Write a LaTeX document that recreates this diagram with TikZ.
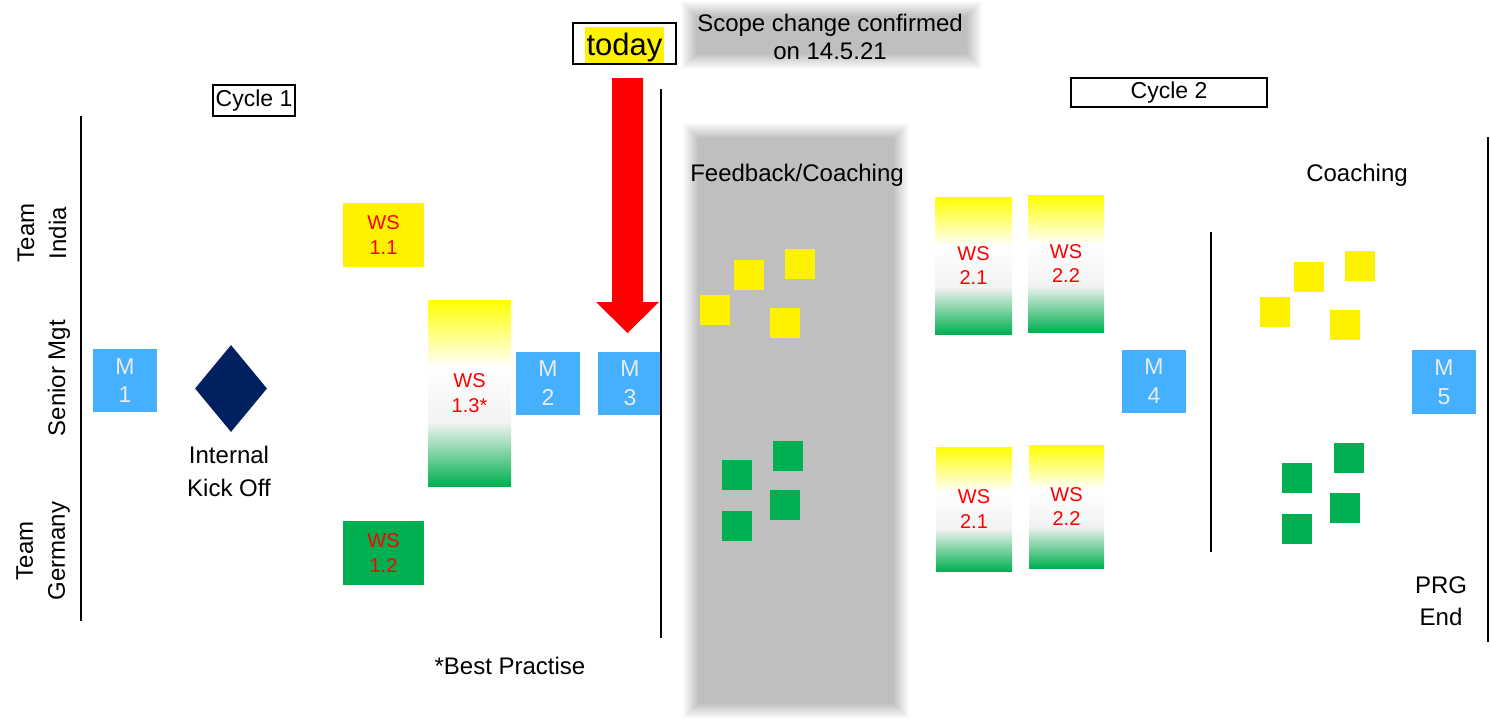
\documentclass[tikz,border=0pt]{standalone}
\usepackage{fontspec}
\setmainfont{Liberation Sans}
\usetikzlibrary{shapes.geometric,calc}
\definecolor{mblue}{RGB}{68,176,255}
\definecolor{mtext}{RGB}{236,236,236}
\definecolor{wsgreen}{RGB}{0,176,80}
\definecolor{navy}{RGB}{0,32,96}
\definecolor{boxgray}{RGB}{191,191,191}
\definecolor{lgrey}{RGB}{242,242,242}
\newcommand{\softbox}[4]{%
  \foreach \k in {0,...,16}{%
    \pgfmathsetmacro{\xa}{#1-8+\k}%
    \pgfmathsetmacro{\ya}{#2-8+\k}%
    \pgfmathsetmacro{\xb}{#3+8-\k}%
    \pgfmathsetmacro{\yb}{#4+8-\k}%
    \pgfmathtruncatemacro{\pc}{\k*100/16}%
    \fill[boxgray!\pc!white] (\xa,\ya) rectangle (\xb,\yb);
  }}
\begin{document}
\begin{tikzpicture}[x=1pt,y=-1pt,
  mbox/.style={fill=mblue, text=mtext, minimum width=64pt, minimum height=63pt, inner sep=0pt, align=center, font=\fontsize{23}{28.5}\selectfont},
  wsflat/.style={minimum width=81pt, minimum height=64pt, inner sep=0pt, align=center, text=red, font=\fontsize{20}{24.5}\selectfont},
  wsgrad/.style={inner sep=0pt, align=center, text=red, font=\fontsize{20}{24.5}\selectfont,
    path picture={
      \path (path picture bounding box.north west) coordinate (nw)
            (path picture bounding box.south east) coordinate (se)
            (path picture bounding box.north east) coordinate (ne)
            (path picture bounding box.south west) coordinate (sw);
      \fill[top color=yellow,bottom color=white] (nw) rectangle ($(ne)!0.36!(se)$);
      \fill[top color=white,bottom color=lgrey] ($(nw)!0.355!(sw)$) rectangle ($(ne)!0.665!(se)$);
      \fill[top color=lgrey,bottom color=wsgreen] ($(nw)!0.66!(sw)$) rectangle (se);
    }},
  sq/.style={minimum width=30pt, minimum height=30pt, inner sep=0pt},
  lbl/.style={font=\fontsize{24}{32}\selectfont, align=center, inner sep=0pt},
  sepline/.style={line width=1.8pt, black},
]
\useasboundingbox (0,0) rectangle (1490,725);

% soft grey panels
\softbox{688}{8}{975}{62}
\softbox{690}{130}{902}{712}

% scope text
\node[lbl, font=\fontsize{24}{28}\selectfont] (scope) at (830,37) {Scope change confirmed\\on 14.5.21};

% today
\node[draw, line width=1.3pt, minimum width=103pt, minimum height=41pt, inner sep=0pt] (todaybox) at (624.5,43.5) {};
\node[fill=yellow, inner sep=0pt, text height=29pt, text depth=7pt, text width=79pt, align=center, font=\fontsize{31}{36}\selectfont] (today) at (624.5,45) {today};

% red arrow
\fill[red] (612,78) -- (643,78) -- (643,302) -- (659,302) -- (627.5,333) -- (596,302) -- (612,302) -- cycle;

% cycle boxes
\node[draw, line width=1.4pt, minimum width=82pt, minimum height=31pt, inner sep=0pt, font=\fontsize{23}{28}\selectfont] (cycle1) at (254,100.5) {Cycle 1};
\node[draw, line width=1.4pt, minimum width=196pt, minimum height=29pt, inner sep=0pt, font=\fontsize{23}{28}\selectfont] (cycle2) at (1169,92.5) {Cycle 2};

% separator lines
\draw[sepline] (81,116) -- (81,621);
\draw[sepline] (1211,232) -- (1211,552);
\draw[sepline] (1488,137) -- (1488,642);

% lane labels
\node[lbl, rotate=90] (india) at (42,233) {Team\\India};
\node[lbl, rotate=90] (senior) at (59,378) {Senior Mgt};
\node[lbl, rotate=90] (germany) at (43,551) {Team\\Germany};

% milestones
\node[mbox] (m1) at (125,380.5) {M\\1};
\node[mbox] (m2) at (548,383) {M\\2};
\node[mbox] (m3) at (630,383) {M\\3};
\node[mbox] (m4) at (1154,381) {M\\4};
\node[mbox, minimum height=64pt] (m5) at (1444,382) {M\\5};

\draw[sepline] (661,89) -- (661,638);

% kick off
\node[diamond, fill=navy, minimum width=72pt, minimum height=87pt, inner sep=0pt] (kick) at (231,388.5) {};
\node[lbl, font=\fontsize{24}{33}\selectfont] (kicktxt) at (229,471) {Internal\\Kick Off};

% workshops cycle 1
\node[wsflat, fill=yellow] (ws11) at (383.5,235) {WS\\1.1};
\node[wsflat, fill=wsgreen] (ws12) at (383.5,553) {WS\\1.2};
\node[wsgrad, minimum width=83pt, minimum height=186pt] (ws13) at (469.5,393) {WS\\1.3*};
\node[lbl] (best) at (510,666) {*Best Practise};

% feedback panel
\node[lbl] (fbtxt) at (797,175.5) {Feedback/Coaching};
\node[sq, fill=yellow] (fy1) at (715,309.5) {};
\node[sq, fill=yellow] (fy2) at (749,275) {};
\node[sq, fill=yellow] (fy3) at (800,264) {};
\node[sq, fill=yellow] (fy4) at (785,323) {};
\node[sq, fill=wsgreen] (fg1) at (737,475) {};
\node[sq, fill=wsgreen] (fg2) at (788,456) {};
\node[sq, fill=wsgreen] (fg3) at (785,505) {};
\node[sq, fill=wsgreen] (fg4) at (737,526) {};

% workshops cycle 2
\node[wsgrad, minimum width=77pt, minimum height=137pt] (ws21a) at (973.5,265.5) {WS\\2.1};
\node[wsgrad, minimum width=76pt, minimum height=137pt] (ws22a) at (1066,263.5) {WS\\2.2};
\node[wsgrad, minimum width=76pt, minimum height=124pt] (ws21b) at (974,509) {WS\\2.1};
\node[wsgrad, minimum width=75pt, minimum height=123pt] (ws22b) at (1066.5,506.5) {WS\\2.2};

% coaching
\node[lbl] (coachtxt) at (1357,175) {Coaching};
\node[sq, fill=yellow] (cy1) at (1275,312) {};
\node[sq, fill=yellow] (cy2) at (1309,277) {};
\node[sq, fill=yellow] (cy3) at (1360,266) {};
\node[sq, fill=yellow] (cy4) at (1345,325) {};
\node[sq, fill=wsgreen] (cg1) at (1349,458) {};
\node[sq, fill=wsgreen] (cg2) at (1297,477.5) {};
\node[sq, fill=wsgreen] (cg3) at (1345,507.5) {};
\node[sq, fill=wsgreen] (cg4) at (1297,528.5) {};

\node[lbl] (prg) at (1441,601) {PRG\\End};
\end{tikzpicture}
\end{document}
